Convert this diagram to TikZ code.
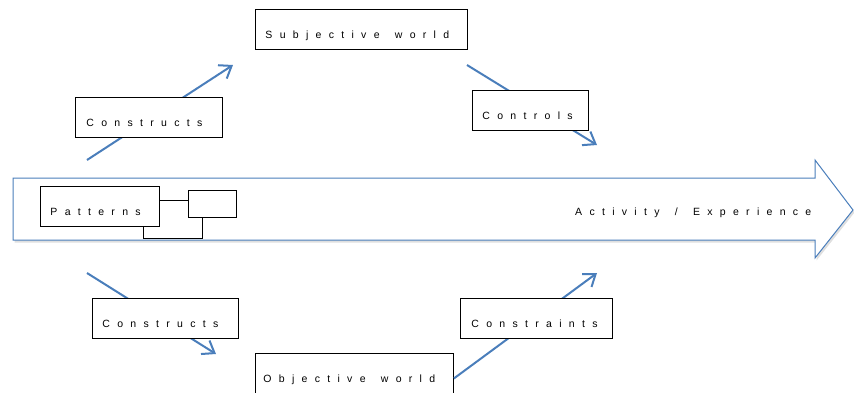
\documentclass[tikz,border=0pt]{standalone}
\usepackage{fontspec}
\setmainfont{Liberation Sans}
\usetikzlibrary{arrows.meta,shadows}
\definecolor{arrowblue}{HTML}{4A7EBB}
\makeatletter
\newcommand{\spaced}[1]{\sp@ced#1\@nil}
\def\sp@ced#1{\ifx#1\@nil\else#1\kern7.3pt\expandafter\sp@ced\fi}
\makeatother
\newcommand{\wgap}{\hspace{8pt}}
\tikzset{
  box/.style={draw=black, fill=white, line width=0.9pt, inner ysep=0pt,
    minimum height=40pt, text height=20pt, text depth=2.4pt, align=left,
    font=\fontsize{10.5}{12}\selectfont, anchor=north west},
  plainbox/.style={draw=black, fill=white, line width=0.9pt, inner sep=0pt, anchor=north west},
  lbl/.style={font=\fontsize{10.5}{12}\selectfont, inner sep=0pt},
  flow/.style={draw=arrowblue, line width=2pt, -{Straight Barb[length=11pt,width=16pt,line width=2pt]}},
  bigarrow/.style={draw=arrowblue, fill=white, line width=1pt,
    drop shadow={opacity=0.25, shadow xshift=1.5pt, shadow yshift=-2.5pt}}
}
\begin{document}
\begin{tikzpicture}[x=1pt,y=-1pt]
\useasboundingbox (0,0) rectangle (854,392);
\clip (0,0) rectangle (854,392);
% big arrow
\draw[bigarrow] (13,178) -- (815,178) -- (815,160) -- (853,210) -- (815,258) -- (815,240) -- (13,240) -- cycle;
\node[lbl, anchor=base west] (act) at (575,215) {\spaced{Activity}\wgap\spaced{/}\wgap\spaced{Experience}};
% arrow coordinates
\coordinate (a1s) at (87,160); \coordinate (a1e) at (233,65);
\coordinate (a2s) at (467,65); \coordinate (a2e) at (597,145);
\coordinate (a3s) at (87,273); \coordinate (a3e) at (216,354);
\coordinate (a4e) at (597,273);
\draw[flow] (a1s) -- (a1e);
\draw[flow] (a2s) -- (a2e);
\draw[flow] (a3s) -- (a3e);
% boxes
\node[box, inner xsep=10pt, text width=192pt] (subj) at (255,9) {\spaced{Subjective}\wgap\spaced{world}};
\node[box, inner xsep=11pt, text width=125pt] (consU) at (75,97) {\spaced{Constructs}};
\node[box, inner xsep=10pt, text width=96pt] (ctrl) at (472,90) {\spaced{Controls}};
\node[box, inner xsep=8pt, text width=182pt] (obj) at (255,353) {\spaced{Objective}\wgap\spaced{world}};
\coordinate (a4s) at ([yshift=-5pt]obj.east);
\draw[flow] (a4s) -- (a4e);
\node[box, inner xsep=10pt, text width=126pt] (consD) at (92,298) {\spaced{Constructs}};
\node[box, inner xsep=11pt, text width=130pt] (cstr) at (460,298) {\spaced{Constraints}};
% pattern boxes
\node[plainbox, minimum width=59pt, minimum height=38pt] (back) at (143,200) {};
\node[plainbox, minimum width=48pt, minimum height=27pt] (small) at (188,190) {};
\node[box, inner xsep=10pt, text width=99pt] (pat) at (40,186) {\spaced{Patterns}};
\end{tikzpicture}
\end{document}
